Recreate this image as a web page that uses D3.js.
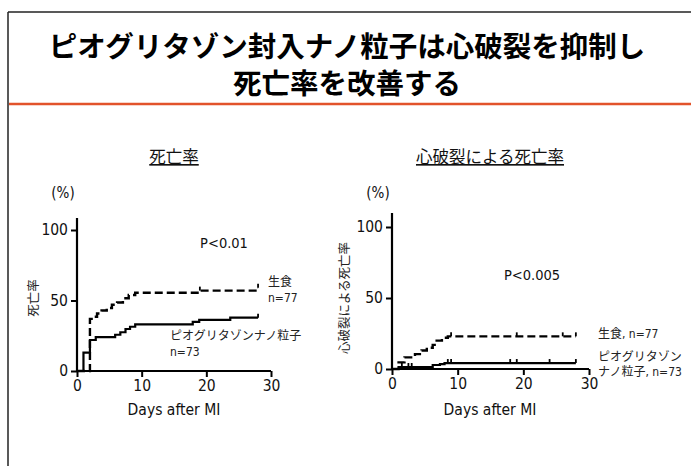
<!DOCTYPE html>
<html><head><meta charset="utf-8">
<script src="https://cdn.jsdelivr.net/npm/d3@7"></script>
<style>
body{margin:0;background:#fff;}
svg{display:block;}
</style></head>
<body>
<svg id="c" width="691" height="466"></svg>
<script>
// ---------- data ----------
const titleLines = ["ピオグリタゾン封入ナノ粒子は心破裂を抑制し", "死亡率を改善する"];
const xTicks = [0, 10, 20, 30];
const yTicks = [0, 50, 100];

// Panel 1: all-cause mortality (%), Kaplan-Meier steps
const mortSalineDays = [0, 2, 2.5, 3.1, 3.8, 4.6, 5.4, 6.2, 7.1, 8.0, 9.0, 18.9, 27.6, 28];
const mortSalineVals = [0, 37, 38.5, 40.8, 42.9, 44.7, 47, 48.6, 51.6, 53.9, 55.5, 57, 59, 59];
const mortPioDays = [0, 1, 2, 2.9, 5.9, 6.7, 7.5, 8.2, 9.0, 17.9, 18.9, 23.7, 28];
const mortPioVals = [0, 13, 22, 24, 25.7, 27.5, 29.8, 31.4, 33, 34.8, 36.3, 37.8, 37.8];

// Panel 2: mortality by cardiac rupture (%)
const ruptSalineDays = [0, 1, 1.9, 3.5, 4.5, 5.3, 6.2, 6.8, 7.6, 8.5, 28];
const ruptSalineVals = [0, 4.7, 8.2, 10.5, 13, 15, 17, 20, 22, 23, 23];
const ruptPioDays = [0, 1, 6.2, 7.3, 8, 28];
const ruptPioVals = [0, 1.4, 2.8, 3.5, 4.2, 4.2];
const ruptSalineCensor = [9, 19, 26, 28];
const ruptPioCensor = [1.5, 2.5, 3, 8.5, 9, 18, 19, 24, 28];

const panels = [
  {title: "死亡率", ylabel: "死亡率", pval: "P<0.01",
   saline: [mortSalineDays, mortSalineVals], pio: [mortPioDays, mortPioVals],
   salineCensor: [19, 28], pioCensor: [28]},
  {title: "心破裂による死亡率", ylabel: "心破裂による死亡率", pval: "P<0.005",
   saline: [ruptSalineDays, ruptSalineVals], pio: [ruptPioDays, ruptPioVals],
   salineCensor: ruptSalineCensor, pioCensor: ruptPioCensor}
];

// ---------- layout ----------
const svg = d3.select("#c");
const JP = "'Noto Sans CJK JP', 'Noto Sans', sans-serif";
const LAT = "'DejaVu Sans Condensed', 'DejaVu Sans', Verdana, sans-serif";

// frame
svg.append("line").attr("x1", 8).attr("x2", 691).attr("y1", 12).attr("y2", 12)
  .attr("stroke", "#222").attr("stroke-width", 1.5);
svg.append("line").attr("x1", 8).attr("x2", 8).attr("y1", 12).attr("y2", 466)
  .attr("stroke", "#222").attr("stroke-width", 1.5);
svg.append("line").attr("x1", 9).attr("x2", 691).attr("y1", 104).attr("y2", 104)
  .attr("stroke", "#e2532b").attr("stroke-width", 2.5);

svg.selectAll("text.title").data(titleLines).join("text")
  .attr("class", "title")
  .attr("x", 347).attr("y", (d, i) => 57 + i * 37)
  .attr("text-anchor", "middle")
  .attr("font-family", JP).attr("font-weight", "bold").attr("font-size", 28.5)
  .attr("fill", "#000").text(d => d);

const geo = [
  {x0: 77, x1: 271, y0: 371, y1: 230, ytop: 218, cx: 174, tcx: 174,
   yl: 32, pv: [224, 248], sal: [{t: "生食", x: 268, y: 286}, {t: "n=77", x: 268, y: 302}],
   pio: [{t: "ピオグリタゾンナノ粒子", x: 170, y: 340}, {t: "n=73", x: 170, y: 356}]},
  {x0: 392, x1: 589, y0: 369, y1: 227, ytop: 213, cx: 490, tcx: 490,
   yl: 343, pv: [532, 280], sal: [{t: "生食, n=77", x: 598, y: 338}],
   pio: [{t: "ピオグリタゾン", x: 598, y: 361}, {t: "ナノ粒子, n=73", x: 598, y: 376}]}
];

panels.forEach((p, k) => {
  const g = geo[k];
  const x = d3.scaleLinear().domain([0, 30]).range([g.x0, g.x1]);
  const y = d3.scaleLinear().domain([0, 100]).range([g.y0, g.y1]);
  const G = svg.append("g");

  // subtitle (underlined)
  G.append("text").attr("x", g.tcx).attr("y", 163)
    .attr("text-anchor", "middle").attr("font-family", JP).attr("font-size", 16.5)
    .attr("fill", "#111").attr("text-decoration", "underline").text(p.title);

  G.append("text").attr("x", g.x0 - 14).attr("y", 198).attr("text-anchor", "middle")
    .attr("font-family", LAT).attr("font-size", 15).attr("fill", "#111").text("(%)");

  // axes
  const xa = G.append("g").attr("transform", `translate(0,${g.y0})`)
    .call(d3.axisBottom(x).tickValues(xTicks).tickSize(6).tickPadding(3).tickSizeOuter(0));
  const ya = G.append("g").attr("transform", `translate(${g.x0},0)`)
    .call(d3.axisLeft(y).tickValues(yTicks).tickSize(6).tickPadding(3).tickSizeOuter(0));
  [xa, ya].forEach(a => {
    a.select(".domain").attr("stroke", "#000").attr("stroke-width", 2.2);
    a.selectAll(".tick line").attr("stroke", "#000").attr("stroke-width", 2);
    a.selectAll(".tick text").attr("font-family", LAT).attr("font-size", 15.5).attr("fill", "#111");
  });
  ya.select(".domain").attr("d", `M0,${g.y0}V${g.ytop}`);
  xa.select(".domain").attr("d", `M${g.x0 - 1},0H${x(30)}`);

  G.append("text").attr("x", g.cx).attr("y", 415).attr("text-anchor", "middle")
    .attr("font-family", LAT).attr("font-size", 15.5).attr("fill", "#111").text("Days after MI");

  G.append("text").attr("transform", `translate(${g.yl},298) rotate(-90)`)
    .attr("text-anchor", "middle").attr("dominant-baseline", "central")
    .attr("font-family", JP).attr("font-size", 12.5).attr("fill", "#222").text(p.ylabel);

  const line = d3.line().x(d => x(d[0])).y(d => y(d[1])).curve(d3.curveStepAfter);
  const toPts = a => a[0].map((d, i) => [d, a[1][i]]);
  const salPts = toPts(p.saline), pioPts = toPts(p.pio);

  G.append("path").attr("d", line(pioPts)).attr("fill", "none")
    .attr("stroke", "#000").attr("stroke-width", 2.2);
  G.append("path").attr("d", line(salPts)).attr("fill", "none")
    .attr("stroke", "#000").attr("stroke-width", 2.4).attr("stroke-dasharray", "8,4");

  const valAt = (pts, t) => { let v = 0; pts.forEach(q => { if (q[0] <= t) v = q[1]; }); return v; };
  const cens = (arr, pts) => G.selectAll(null).data(arr).join("line")
    .attr("x1", d => x(d)).attr("x2", d => x(d))
    .attr("y1", d => y(valAt(pts, d))).attr("y2", d => y(valAt(pts, d)) - 4)
    .attr("stroke", "#000").attr("stroke-width", 1.8);
  cens(p.salineCensor, salPts);
  cens(p.pioCensor, pioPts);

  G.append("text").attr("x", g.pv[0]).attr("y", g.pv[1]).attr("text-anchor", "middle")
    .attr("font-family", LAT).attr("font-size", 14.5).attr("fill", "#111").text(p.pval);

  g.sal.concat(g.pio).forEach(l => {
    G.append("text").attr("x", l.x).attr("y", l.y)
      .attr("font-family", LAT + ",'Noto Sans CJK JP'").attr("font-size", 12).attr("fill", "#222")
      .text(l.t);
  });
});
</script>
</body></html>
